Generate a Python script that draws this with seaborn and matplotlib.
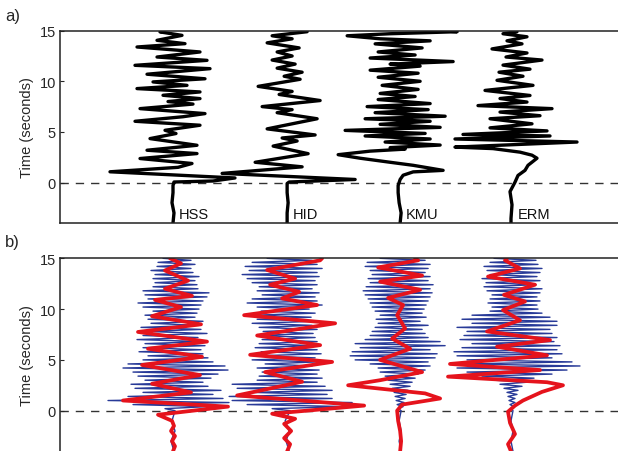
import numpy as np
import pandas as pd
import matplotlib
matplotlib.use("Agg")
import matplotlib.pyplot as plt
import seaborn as sns

# ---------------- data (amplitudes are horizontal offsets, px-like units) ----------------
stations = ["HSS", "HID", "KMU", "ERM"]
positions = [1.0, 2.01, 3.01, 4.0]
amp_scale = 113.0
y_ticks = [0, 5, 10, 15]

# panel a) black traces
hss_a_t = [-4.0, -3.0, -2.0, -1.0, -0.3, 0.05, 0.15, 0.45, 1.06, 1.5, 1.88, 2.37, 2.86, 3.19, 3.68,
           4.34, 4.84, 5.16, 5.66, 6.05, 6.5, 6.81, 7.3, 7.75, 8.0, 8.29, 8.62, 8.95, 9.28, 9.6,
           9.94, 10.25, 10.7, 11.25, 11.58, 12.07, 12.4, 12.9, 13.39, 13.72, 14.05, 14.54, 14.88, 15.0]
hss_a = [0, 1, -1, 0, 0, 1, 40, 62, -63, 5, 19, -33, 24, -26, 24,
         -23, 3, -8, 27, -38, 10, 32, -33, 20, -5, 27, -10, 27, -36, 14,
         -20, 32, -26, 37, -38, 34, -16, 27, -36, 12, -16, 9, -13, -10]

hid_a_t = [-4.0, -3.0, -2.0, -1.0, -0.1, 0.05, 0.3, 0.9, 1.55, 2.0, 2.85, 3.6, 4.1, 4.4, 4.7,
           5.3, 5.8, 6.3, 6.9, 7.2, 7.5, 8.1, 8.7, 9.0, 9.5, 10.2, 10.5, 10.9, 11.3, 11.7,
           12.1, 12.5, 12.9, 13.3, 13.8, 14.2, 14.5, 14.9, 15.0]
hid_a = [0, 0, 1, 0, 0, 2, 68, -65, 15, -32, 21, -14, 10, -5, 28,
         -20, 5, 30, -10, 5, -25, 33, -8, 5, -29, 13, -3, 15, -10, 8,
         -15, 5, -10, 12, -20, 5, -15, 20, 20]

kmu_a_t = [-4.0, -3.0, -2.0, -1.0, -0.3, 0.3, 0.72, 1.05, 1.2, 1.7, 2.0, 2.4, 2.75, 3.1, 3.3,
           3.45, 3.7, 4.0, 4.3, 4.6, 4.85, 5.15, 5.45, 5.75, 6.05, 6.3, 6.55, 6.9, 7.2, 7.5,
           7.8, 8.2, 8.5, 8.8, 9.2, 9.6, 10.0, 10.4, 10.8, 11.1, 11.5, 11.7, 11.95, 12.3, 12.6,
           12.9, 13.3, 13.7, 14.0, 14.2, 14.5, 14.7, 14.9, 15.0]
kmu_a = [0, 1, -1, -2, -2, 0, 3, 13, 43, 13, -10, -40, -62, -30, 5,
         -10, 40, -15, 30, -35, 25, -55, 40, -20, 30, -35, 45, -25, 28, -33,
         30, -22, 15, -20, 18, -18, 20, -22, 18, -30, 20, -10, 53, -30, 15,
         -22, 22, -25, 30, -20, -53, -10, 57, 40]

erm_a_t = [-4.0, -3.55, -2.2, -0.9, 0.03, 0.7, 1.2, 1.7, 2.4, 2.7, 3.0, 3.35, 3.5, 4.0, 4.3,
           4.6, 4.75, 5.1, 5.4, 5.8, 6.3, 6.6, 6.96, 7.3, 7.6, 7.95, 8.3, 8.6, 9.1, 9.6,
           10.1, 10.5, 10.9, 11.2, 11.6, 12.1, 12.4, 12.8, 13.2, 13.7, 14.0, 14.4, 14.7, 14.9, 15.0]
erm_a = [-1, -1, 0, -2, 3, 6, 13, 16, 25, 20, 8, -19, -57, 65, -57,
         38, -49, 35, -22, 20, -22, 28, -12, 40, -34, 15, -12, 18, -27, 21,
         -15, 11, -13, 18, -9, 30, -6, 15, -20, 10, -5, 15, -9, 5, 3]

# panel b) red (low-pass) traces
hss_r_t = [-4.0, -3.5, -3.0, -2.5, -2.0, -1.5, -1.0, -0.4, 0.4, 1.0, 1.8, 2.65, 3.5, 4.5, 5.3,
           6.1, 6.8, 7.75, 8.5, 9.3, 10.2, 10.9, 11.3, 12.0, 12.8, 13.8, 14.5, 15.0]
hss_r = [0, 2, -1, 2, -2, 1, -1, -15, 55, -50, 18, -21, 27, -31, 29,
         -25, 34, -35, 28, -21, 8, -18, 19, -8, 15, -8, 8, -3]

hid_r_t = [-4.0, -3.3, -2.7, -2.0, -1.3, -0.8, -0.3, 0.5, 1.5, 2.85, 3.8, 4.8, 5.5, 6.45, 7.4,
           8.6, 9.4, 10.4, 11.05, 11.7, 12.4, 13.0, 13.85, 14.8, 15.0]
hid_r = [0, 3, -3, 4, -3, 8, -15, 77, -50, 15, -22, 45, -37, 33, -30,
         48, -43, 30, -5, 12, -17, 8, -20, 33, 35]

kmu_r_t = [-4.0, -3.0, -2.0, -1.0, 0.0, 0.6, 1.2, 1.7, 2.5, 3.0, 3.8, 5.0, 6.1, 7.1, 8.1,
           9.4, 10.4, 11.1, 11.9, 12.7, 13.3, 14.1, 14.8, 15.0]
kmu_r = [0, 1, 0, -2, -3, 2, 40, 25, -52, -20, 22, -20, 10, -8, 5,
         -3, 3, -12, 20, -20, 22, -22, 18, 15]

erm_r_t = [-4.0, -3.3, -2.3, -1.2, -0.1, 0.5, 1.0, 1.85, 2.5, 2.8, 3.35, 4.0, 4.6, 5.45, 6.3,
           6.95, 7.8, 8.9, 9.9, 10.75, 11.4, 12.4, 13.2, 14.0, 14.8, 15.0]
erm_r = [-1, -4, 3, -2, -4, 3, 11, 30, 51, 35, -64, 28, -62, 35, -15,
         38, -25, 8, -9, 13, -8, 23, -24, 8, -7, -5]

# panel b) blue (broadband) traces: pre-event samples + samples every 0.2 s from 0 to 15 s
blue_t = [-4.0, -3.0, -2.0, -1.0] + [round(0.2 * i, 1) for i in range(76)]
hss_b = [1, -2, 2, -1,
         2, -8, 35, -40, 56, -65, 50, -45, 40, -30, 48, -38, 35, -42, 30, -28, 38, -35, 45, -40,
         55, -50, 52, -45, 40, -30, 35, -25, 30, -34, 28, -30, 32, -28, 30, -36, 25, -30, 34, -26,
         28, -32, 26, -22, 30, -25, 22, -28, 24, -20, 26, -30, 28, -35, 30, -25, 34, -28, 36, -30,
         25, -20, 24, -18, 22, -20, 26, -18, 20, -22, 18, -16, 22, -15, 18, -10]
hid_b = [2, -1, 2, -2,
         3, -15, 60, -40, 65, -55, 45, -58, 40, -35, 45, -50, 38, -55, 30, -30, 35, -28, 30, -25,
         32, -30, 25, -22, 30, -35, 28, -30, 34, -26, 30, -32, 25, -28, 30, -25, 28, -30, 26, -24,
         30, -28, 25, -35, 30, -30, 24, -32, 28, -26, 22, -30, 35, -40, 30, -35, 28, -25, 32, -30,
         25, -28, 30, -35, 28, -40, 32, -45, 30, -38, 35, -42, 30, -35, 25, -20]
kmu_b = [1, -1, 1, -1,
         1, -2, 3, -3, 4, -4, 5, -5, 6, -6, 8, -8, 10, -10, 12, -12, 15, -15, 18, -20,
         25, -22, 30, -30, 28, -45, 35, -50, 37, -48, 30, -40, 45, -45, 40, -35, 28, -30, 25, -28,
         22, -25, 28, -22, 20, -24, 26, -20, 22, -25, 24, -28, 26, -30, 28, -32, 30, -35, 32, -37,
         30, -34, 33, -30, 28, -32, 30, -28, 25, -30, 28, -35, 30, -33, 25, -20]
erm_b = [1, -1, 1, -1,
         1, -1, 2, -2, 3, -3, 3, -4, 5, -5, 6, -8, 10, -12, 15, -18, 22, -30, 40, -45,
         55, -55, 68, -50, 60, -45, 40, -55, 50, -58, 45, -50, 48, -40, 42, -52, 45, -48, 40, -45,
         38, -55, 45, -40, 45, -50, 38, -40, 30, -22, 26, -20, 25, -24, 28, -22, 25, -20, 28, -25,
         30, -28, 24, -26, 28, -30, 25, -22, 28, -25, 30, -28, 26, -22, 24, -18]

black_traces = [(hss_a_t, hss_a), (hid_a_t, hid_a), (kmu_a_t, kmu_a), (erm_a_t, erm_a)]
red_traces = [(hss_r_t, hss_r), (hid_r_t, hid_r), (kmu_r_t, kmu_r), (erm_r_t, erm_r)]
blue_traces = [(blue_t, hss_b), (blue_t, hid_b), (blue_t, kmu_b), (blue_t, erm_b)]


def make_df(traces):
    frames = []
    for name, pos, (t, a) in zip(stations, positions, traces):
        frames.append(pd.DataFrame({"station": name, "time": t,
                                    "x": pos + np.asarray(a, float) / amp_scale}))
    return frames


# ---------------- style ----------------
sns.set_theme(style="white")
plt.rcParams["font.family"] = ["Liberation Sans", "DejaVu Sans"]
plt.rcParams["axes.edgecolor"] = "#222222"
plt.rcParams["axes.linewidth"] = 1.1

W, H = 618, 452
fig = plt.figure(figsize=(W / 100, H / 100), dpi=100)
ax_a = fig.add_axes([60 / W, (H - 224) / H, (W - 60) / W, 192.3 / H])
ax_b = fig.add_axes([60 / W, (H - 452.3) / H, (W - 60) / W, 193.0 / H])

for ax in (ax_a, ax_b):
    ax.set_xlim(0, (W - 60) / amp_scale)
    ax.set_ylim(-4, 15)
    ax.spines["right"].set_visible(False)
    ax.axhline(0, color="#333333", lw=1.0, ls=(0, (6, 5)), zorder=0.5)

ax_b.spines["bottom"].set_visible(False)

for d in make_df(black_traces):
    sns.lineplot(data=d, x="x", y="time", sort=False, estimator=None, color="black",
                 lw=2.4, ax=ax_a, legend=False, solid_joinstyle="round")
for d in make_df(blue_traces):
    sns.lineplot(data=d, x="x", y="time", sort=False, estimator=None, color="#283a98",
                 lw=1.0, ax=ax_b, legend=False)
for d in make_df(red_traces):
    sns.lineplot(data=d, x="x", y="time", sort=False, estimator=None, color="#e5131c",
                 lw=2.7, ax=ax_b, legend=False, solid_joinstyle="round")

for ax in (ax_a, ax_b):
    ax.set_yticks(y_ticks)
    ax.set_yticklabels([str(v) for v in y_ticks], fontsize=10.5)
    ax.set_xticks([])
    ax.tick_params(axis="y", direction="in", length=3, width=0.8, pad=3, left=True)
    ax.set_ylabel("Time (seconds)", fontsize=10.5, labelpad=4)
    ax.set_xlabel("")

for name, pos in zip(stations, positions):
    ax_a.text(pos + 6 / amp_scale, -3.85, name, fontsize=10.5, ha="left", va="bottom", color="#111111")

fig.text(5 / W, 1 - 17 / H, "a)", fontsize=12, ha="left", va="center")
fig.text(5 / W, 1 - 243 / H, "b)", fontsize=12, ha="left", va="center")

fig.savefig("out.png", dpi=100)
